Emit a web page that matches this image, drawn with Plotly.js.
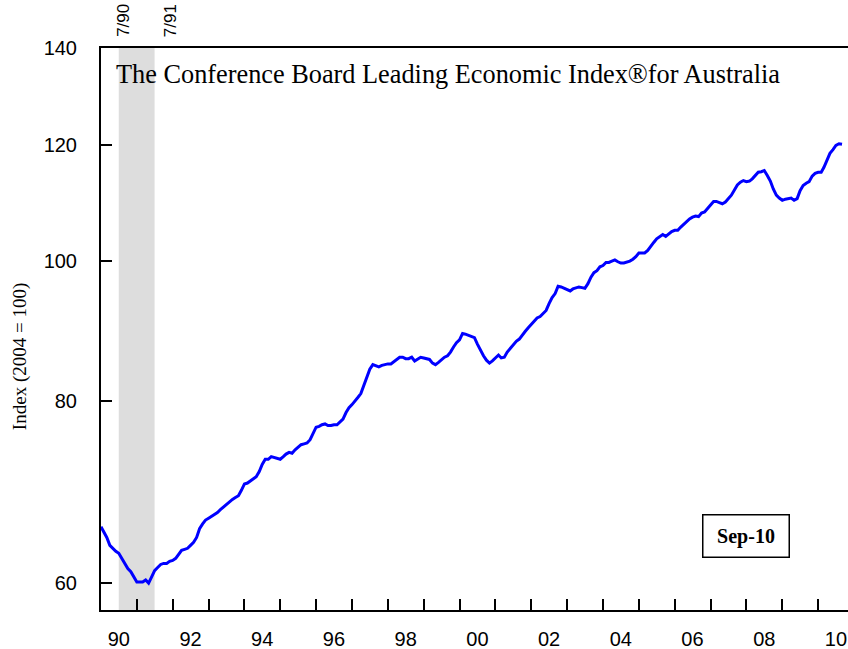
<!DOCTYPE html>
<html>
<head>
<meta charset="utf-8">
<script src="https://cdn.plot.ly/plotly-3.0.1.min.js"></script>
<style>
html,body{margin:0;padding:0;background:#fff;}
#chart{width:848px;height:649px;}
</style>
</head>
<body>
<div id="chart"></div>
<script>
// Monthly data: Jan 1990 .. Sep 2010
const startYear = 1990;
const leiValues = [
  // 1990
  65.6, 65.0, 64.5, 63.7, 63.4, 63.1, 62.9, 62.4, 61.8, 61.4, 61.1, 60.6,
  // 1991
  60.1, 60.1, 60.1, 60.3, 60.0, 60.6, 61.2, 61.5, 61.8, 61.9, 61.9, 62.1,
  // 1992
  62.2, 62.4, 62.8, 63.2, 63.3, 63.4, 63.7, 64.0, 64.5, 65.4, 65.9, 66.3,
  // 1993
  66.5, 66.7, 66.9, 67.1, 67.4, 67.7, 68.0, 68.3, 68.5, 68.7, 68.9, 69.5,
  // 1994
  70.2, 70.3, 70.5, 70.7, 71.0, 71.6, 72.4, 73.0, 73.0, 73.3, 73.2, 73.1,
  // 1995
  73.0, 73.3, 73.6, 73.8, 73.7, 74.1, 74.4, 74.7, 74.8, 74.9, 75.3, 76.0,
  // 1996
  76.8, 76.9, 77.1, 77.2, 77.0, 77.0, 77.1, 77.1, 77.4, 77.8, 78.6, 79.2,
  // 1997
  79.6, 80.0, 80.5, 81.0, 82.1, 83.2, 84.2, 84.8, 84.6, 84.5, 84.7, 84.8,
  // 1998
  84.9, 84.9, 85.2, 85.5, 85.8, 85.8, 85.6, 85.6, 85.8, 85.3, 85.5, 85.8,
  // 1999
  85.7, 85.6, 85.5, 85.0, 84.8, 85.1, 85.5, 85.8, 86.0, 86.5, 87.2, 87.8,
  // 2000
  88.2, 89.1, 89.0, 88.8, 88.7, 88.5, 87.6, 86.7, 86.0, 85.4, 85.0, 85.3,
  // 2001
  85.7, 86.1, 85.7, 85.8, 86.5, 87.0, 87.4, 88.0, 88.3, 88.9, 89.4, 89.9,
  // 2002
  90.4, 90.9, 91.3, 91.5, 91.9, 92.4, 93.4, 94.3, 94.9, 96.0, 95.9, 95.7,
  // 2003
  95.5, 95.3, 95.6, 95.8, 95.9, 95.8, 95.7, 96.4, 97.4, 98.1, 98.4, 99.0,
  // 2004
  99.2, 99.7, 99.7, 99.9, 100.1, 99.8, 99.6, 99.6, 99.7, 99.9, 100.2, 100.6,
  // 2005
  101.2, 101.2, 101.2, 101.6, 102.3, 102.9, 103.5, 103.9, 104.2, 103.9, 104.3, 104.7,
  // 2006
  104.9, 104.9, 105.4, 105.9, 106.3, 106.8, 107.1, 107.3, 107.2, 107.8, 108.0, 108.5,
  // 2007
  109.2, 109.8, 109.8, 109.6, 109.4, 109.7, 110.2, 110.9, 111.8, 112.7, 113.2, 113.5,
  // 2008
  113.3, 113.4, 113.8, 114.4, 115.0, 115.1, 115.3, 114.4, 113.4, 112.0, 110.9, 110.4,
  // 2009
  110.0, 110.2, 110.3, 110.4, 110.0, 110.3, 111.7, 112.6, 113.0, 113.3, 114.3, 114.8,
  // 2010
  115.0, 115.0, 115.9, 117.3, 118.5, 119.2, 120.0, 120.3, 120.2
];
const yTickVals = [60, 80, 100, 120, 140];
const yTickText = ['60', '80', '100', '120', '140'];
const xLabelYears = [1990, 1992, 1994, 1996, 1998, 2000, 2002, 2004, 2006, 2008, 2010];
const xLabelText = ['90', '92', '94', '96', '98', '00', '02', '04', '06', '08', '10'];
const recessionStart = '1990-07-01';
const recessionEnd = '1991-07-01';
const recessionLabels = ['7/90', '7/91'];
const titleText = 'The Conference Board Leading Economic Index®for Australia';
const yTitleText = 'Index (2004 = 100)';
const dateStamp = 'Sep-10';

function pad(n){ return n < 10 ? '0' + n : '' + n; }
const dates = leiValues.map((v, i) => {
  const y = startYear + Math.floor(i / 12);
  const m = (i % 12) + 1;
  return y + '-' + pad(m) + '-01';
});
const yearTicks = [];
for (let y = 1991; y <= 2010; y++) yearTicks.push(y + '-01-01');
const labelTicks = xLabelYears.map(y => y + '-07-01');

const trace = {
  x: dates,
  y: leiValues,
  type: 'scatter',
  mode: 'lines',
  line: {color: '#0000FF', width: 3},
  hoverinfo: 'skip'
};

const layout = {
  width: 848,
  height: 649,
  margin: {l: 101, r: 0, t: 48, b: 39, pad: 0},
  paper_bgcolor: '#ffffff',
  plot_bgcolor: '#ffffff',
  showlegend: false,
  xaxis: {
    type: 'date',
    range: ['1990-01-01', '2010-11-01'],
    showgrid: false,
    zeroline: false,
    showline: true,
    linecolor: '#000',
    linewidth: 2,
    mirror: true,
    tickmode: 'array',
    tickvals: labelTicks,
    ticktext: xLabelText,
    ticks: 'inside',
    ticklen: 0,
    tickfont: {family: 'Liberation Sans, Arial, sans-serif', size: 20, color: '#000'},
    ticklabelstandoff: 10,
    minor: {
      tickmode: 'array',
      tickvals: yearTicks,
      ticks: 'inside',
      ticklen: 11,
      tickwidth: 2,
      tickcolor: '#000',
      showgrid: false
    }
  },
  yaxis: {
    type: 'log',
    range: [Math.log10(57.5), Math.log10(140)],
    showgrid: false,
    zeroline: false,
    showline: true,
    linecolor: '#000',
    linewidth: 2,
    tickmode: 'array',
    tickvals: yTickVals,
    ticktext: yTickText,
    ticks: 'inside',
    ticklen: 11,
    tickwidth: 2,
    tickcolor: '#000',
    tickfont: {family: 'Liberation Sans, Arial, sans-serif', size: 20, color: '#000'},
    ticklabelstandoff: 18
  },
  shapes: [{
    type: 'rect',
    xref: 'x', yref: 'paper',
    x0: recessionStart, x1: recessionEnd,
    y0: 0, y1: 1,
    fillcolor: '#DDDDDD',
    line: {width: 0},
    layer: 'below'
  }],
  annotations: [
    {
      text: titleText,
      xref: 'paper', yref: 'paper',
      x: 0.0175, y: 0.9537,
      xanchor: 'left', yanchor: 'middle',
      showarrow: false,
      font: {family: 'Liberation Serif, Times New Roman, serif', size: 26.3, color: '#000'}
    },
    {
      text: recessionLabels[0],
      xref: 'paper', yref: 'paper',
      x: 0.0299, y: 1.016,
      xanchor: 'center', yanchor: 'bottom',
      textangle: -90,
      showarrow: false,
      font: {family: 'Liberation Sans, Arial, sans-serif', size: 17, color: '#000'}
    },
    {
      text: recessionLabels[1],
      xref: 'paper', yref: 'paper',
      x: 0.0933, y: 1.016,
      xanchor: 'center', yanchor: 'bottom',
      textangle: -90,
      showarrow: false,
      font: {family: 'Liberation Sans, Arial, sans-serif', size: 17, color: '#000'}
    },
    {
      text: '<b>' + dateStamp + '</b>',
      xref: 'paper', yref: 'paper',
      x: 0.8641, y: 0.1322,
      xanchor: 'center', yanchor: 'middle',
      width: 83, height: 39,
      showarrow: false,
      bordercolor: '#000',
      borderwidth: 1.5,
      borderpad: 1,
      bgcolor: '#ffffff',
      font: {family: 'Liberation Serif, Times New Roman, serif', size: 20, color: '#000'}
    },
    {
      text: yTitleText,
      xref: 'paper', yref: 'paper',
      x: -0.1084, y: 0.45,
      xanchor: 'center', yanchor: 'middle',
      textangle: -90,
      showarrow: false,
      font: {family: 'Liberation Serif, Times New Roman, serif', size: 19, color: '#000'}
    }
  ]
};

Plotly.newPlot('chart', [trace], layout, {displayModeBar: false, staticPlot: true});
</script>
</body>
</html>
